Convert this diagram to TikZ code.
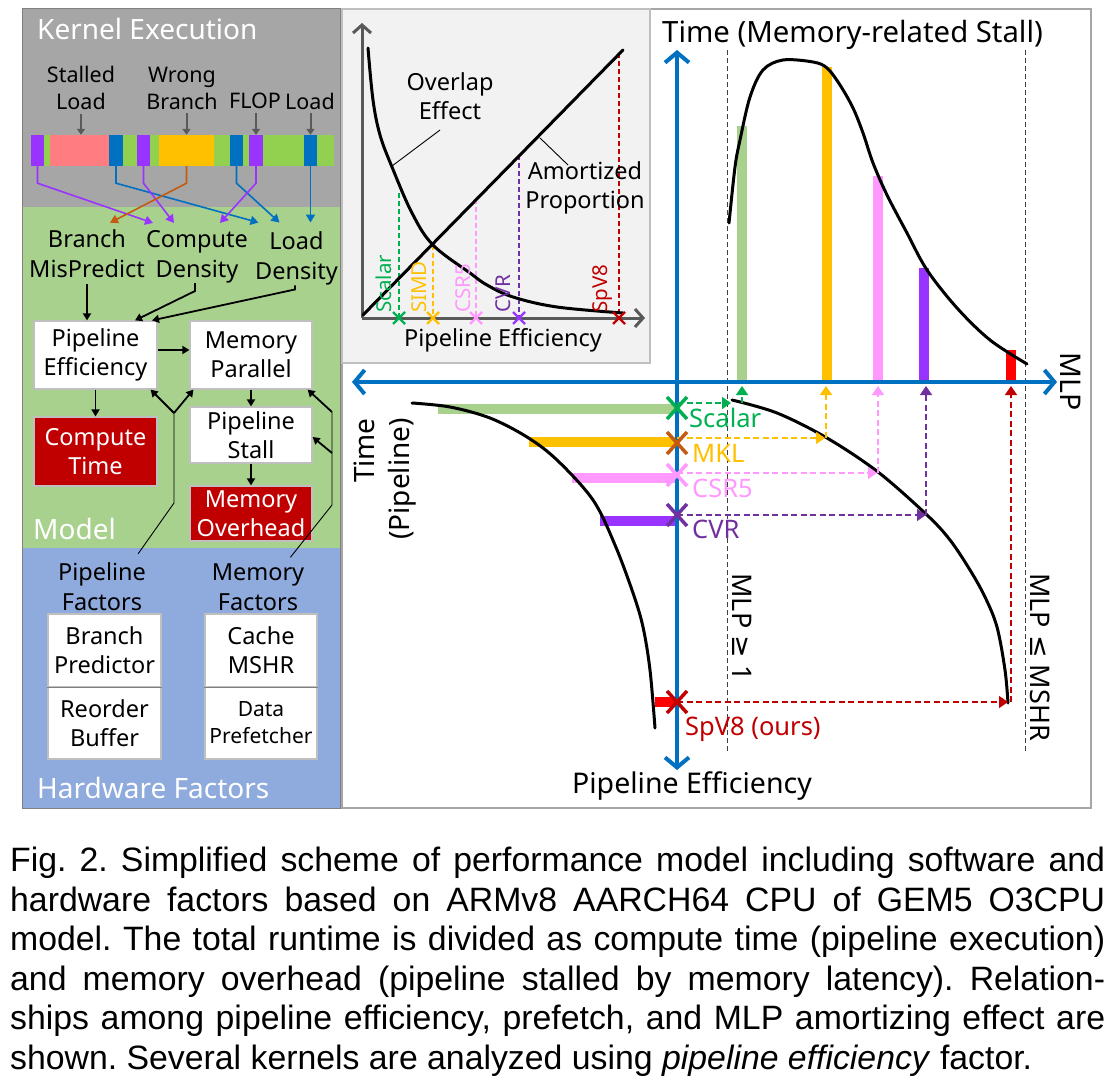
\documentclass[tikz,border=0pt]{standalone}
\usepackage{fontspec}
\setmainfont{Noto Sans}
\newfontfamily\capfont{Liberation Sans}
\newfontfamily\dvs{DejaVu Sans}
\usetikzlibrary{arrows.meta,calc}
\definecolor{kgray}{HTML}{A6A6A6}
\definecolor{mgreen}{HTML}{A9D18E}
\definecolor{hblue}{HTML}{8FAADC}
\definecolor{bgreen}{HTML}{92D050}
\definecolor{bpink}{HTML}{FF7C80}
\definecolor{mblue}{HTML}{0070C0}
\definecolor{vpurple}{HTML}{9933FF}
\definecolor{kgold}{HTML}{FFC000}
\definecolor{rbrown}{HTML}{C55A11}
\definecolor{dred}{HTML}{C00000}
\definecolor{igray}{HTML}{F2F2F2}
\definecolor{boxgray}{HTML}{BFBFBF}
\definecolor{pgray}{HTML}{A6A6A6}
\definecolor{agray}{HTML}{595959}
\definecolor{sgreen}{HTML}{00B050}
\definecolor{lpink}{HTML}{FF99FF}
\definecolor{dpurple}{HTML}{7030A0}
\definecolor{bred}{HTML}{FF0000}
\definecolor{dashgray}{HTML}{404040}
\newcommand\fsz[2]{\fontsize{#1pt}{#2pt}\selectfont}
\begin{document}
\begin{tikzpicture}[x=1pt,y=-1pt,
  ttl/.style={text=white,font=\fsz{28}{34},inner sep=0pt},
  klab/.style={font=\fsz{21.5}{27},align=center,inner sep=0pt},
  mlab/.style={font=\fsz{23.5}{30},align=center,inner sep=0pt},
  wbox/.style={draw=boxgray,line width=1.2pt,fill=white,inner sep=0pt,align=center,font=\fsz{23.5}{29}},
  rbox/.style={wbox,fill=dred,text=white},
  seg/.style={inner sep=0pt,minimum height=31pt,minimum width=#1},
  karr/.style={draw=agray,line width=2pt,-{Triangle[length=6pt,width=8pt]}},
  carr/.style={line width=1.6pt,-{Triangle[length=8pt,width=9pt]}},
  barr/.style={line width=1.8pt,-{Triangle[length=7pt,width=8pt]}},
  thinl/.style={line width=0.9pt},
  ilab/.style={font=\fsz{23.5}{29},align=center,inner sep=0pt},
  vlab/.style={font=\fsz{20.5}{24},inner sep=0pt,rotate=90,anchor=west},
  idash/.style={dashed,dash pattern=on 5pt off 3pt,line width=1.5pt},
  blk/.style={line width=3pt,line cap=round},
  bigl/.style={font=\fsz{28.5}{35},inner sep=0pt},
  clab/.style={font=\fsz{25.5}{30},inner sep=0pt,anchor=base west},
  darr/.style={dashed,dash pattern=on 6pt off 3.5pt,line width=1.6pt,-{Triangle[length=9pt,width=12pt]}},
  vbar/.style={line width=9.5pt},
  baxis/.style={draw=mblue,line width=4pt,{Straight Barb[length=10pt,width=24pt]}-{Straight Barb[length=10pt,width=24pt]}},
  iaxis/.style={draw=agray,line width=3pt,-{Straight Barb[length=8pt,width=18pt]}},
  xbig/.pic={\draw[line width=3.5pt] (-10,-11) -- (10,11) (-10,11) -- (10,-11);},
  xsml/.pic={\draw[line width=2.2pt] (-6,-6) -- (6,6) (-6,6) -- (6,-6);},
]
\useasboundingbox (0,0) rectangle (1115,1081);
\fill[white] (0,0) rectangle (1115,1081);

% ---------------- left panel ----------------
\fill[kgray] (22,9) rectangle (340,207);
\fill[mgreen] (22,207) rectangle (340,548);
\fill[hblue] (22,548) rectangle (340,808);
\draw[gray,line width=1pt] (22,9) rectangle (340,808);

\node[ttl,anchor=base west] (tke) at (37,40) {Kernel Execution};
\node[ttl,anchor=base west] (tmo) at (33,539) {Model};
\node[ttl,anchor=base west] (thf) at (37,798) {Hardware Factors};

\node[klab] (stl) at (81,88) {Stalled\\Load};
\node[klab] (wrb) at (182,88) {Wrong\\Branch};
\node[klab] (flp) at (255,101) {FLOP};
\node[klab] (ldl) at (310,101) {Load};

\node[seg=303pt,fill=bgreen] (bar) at (182.5,150.5) {};
\node[seg=13pt,fill=vpurple] (p1) at (37.5,150.5) {};
\node[seg=59pt,fill=bpink] (k1) at (79.5,150.5) {};
\node[seg=14pt,fill=mblue] (b1) at (116,150.5) {};
\node[seg=13pt,fill=vpurple] (p2) at (143.5,150.5) {};
\node[seg=55pt,fill=kgold] (o1) at (186.5,150.5) {};
\node[seg=13pt,fill=mblue] (b2) at (236.5,150.5) {};
\node[seg=14pt,fill=vpurple] (p3) at (256,150.5) {};
\node[seg=13pt,fill=mblue] (b3) at (310.5,150.5) {};

\draw[karr] ($(stl.south)+(0,4)$) -- (stl.south |- k1.north);
\draw[karr] ($(o1.north |- wrb.south)+(0,4)$) -- (o1.north);
\draw[karr] ($(p3.north |- flp.south)+(0,4)$) -- (p3.north);
\draw[karr] ($(b3.north |- ldl.south)+(0,4)$) -- (b3.north);

\node[mlab] (bmp) at (87,254) {Branch\\MisPredict};
\node[mlab] (cd) at (197,256.5) {Compute\\Density};
\node[mlab] (ld) at (296.5,258.5) {Load\\Density};

\draw[carr,vpurple] (p1.south) -- ++(0,17) -- ([xshift=-44pt,yshift=7pt]cd.north);
\draw[carr,mblue] (b1.south) -- ++(0,17) -- ([xshift=-38pt,yshift=9pt]ld.north);
\draw[carr,vpurple] (p2.south) -- ++(0,17) -- ([xshift=-23pt,yshift=7pt]cd.north);
\draw[carr,rbrown] (o1.south) -- ++(0,17) -- ([xshift=23pt,yshift=7pt]bmp.north);
\draw[carr,mblue] (b2.south) -- ++(0,17) -- ([xshift=-17pt,yshift=9pt]ld.north);
\draw[carr,vpurple] (p3.south) -- ++(0,17) -- ([xshift=23pt,yshift=7pt]cd.north);
\draw[carr,mblue] (b3.south) -- ([xshift=14pt,yshift=9pt]ld.north);

\node[wbox,minimum width=123pt,minimum height=68pt] (pe) at (95.5,355) {Pipeline\\Efficiency};
\node[wbox,minimum width=122pt,minimum height=68pt] (mp) at (251,355) {Memory\\Parallel};
\node[rbox,minimum width=123pt,minimum height=69pt] (ct) at (95.5,451.5) {Compute\\Time};
\node[wbox,minimum width=122pt,minimum height=56pt] (ps) at (251,435) {Pipeline\\Stall};
\node[rbox,minimum width=122pt,minimum height=55pt] (mo) at (251,513.5) {Memory\\Overhead};

\draw[barr] ($(bmp.south)+(0,6)$) -- (bmp.south |- pe.north);
\draw[barr] ([xshift=-2pt]cd.south) -- ++(0,8) -- ([xshift=39.5pt]pe.north);
\draw[barr] ([xshift=-1.5pt]ld.south) -- ++(0,4) -- ([xshift=56.5pt]pe.north);

\draw[barr] ([yshift=5pt]pe.east) -- ([yshift=5pt]mp.west);
\draw[barr] (pe.south) -- (ct.north);
\draw[barr] (mp.south) -- (ps.north);
\draw[barr] (ps.south) -- (mo.north);

\node[mlab] (pf) at (102,587) {Pipeline\\Factors};
\node[mlab] (mf) at (258,587) {Memory\\Factors};

\coordinate (pfb) at (174,503);
\coordinate (pfj) at (174,413);
\draw[thinl] ([xshift=-8pt,yshift=9pt]pf.north east) -- (pfb) -- (pfj);
\draw[barr] (pfj) -- ([xshift=-7pt]pe.south east);
\draw[barr] (pfj) -- ([xshift=4pt]mp.south west);

\coordinate (mfb) at (332,505);
\coordinate (mfm) at (332,453);
\coordinate (mfj) at (332,412);
\draw[thinl] ([xshift=-14pt,yshift=6pt]mf.north east) -- (mfb) -- (mfj);
\draw[barr] (mfm) -- ([yshift=-2pt]ps.east);
\draw[barr] (mfj) -- ([xshift=-5pt]mp.south east);

\node[wbox,minimum width=113pt,minimum height=73pt] (bp) at (104.5,650.5) {Branch\\Predictor};
\node[wbox,minimum width=113pt,minimum height=72pt] (rb) at (104.5,723) {Reorder\\Buffer};
\node[wbox,minimum width=112pt,minimum height=73pt] (cm) at (261,650.5) {Cache\\MSHR};
\node[wbox,minimum width=112pt,minimum height=72pt,font=\fsz{21}{27}] (dp) at (261,723) {Data\\Prefetcher};
\draw[gray,line width=1.2pt] (bp.south west) -- (bp.south east);
\draw[gray,line width=1.2pt] (cm.south west) -- (cm.south east);

% ---------------- right panel ----------------
\draw[pgray,line width=1.2pt] (342,9) rectangle (1091,808);

% inset
\fill[igray] (342,9) rectangle (650,363);
\draw[boxgray,line width=1.2pt] (342,9) rectangle (650,363);
\draw[iaxis] (362,318) -- (362,23);
\draw[iaxis] (362,318) -- (645,318);
\draw[idash,sgreen] (399,193) -- (399,318);
\draw[idash,kgold] (433,245) -- (433,318);
\draw[idash,lpink] (476,199) -- (476,318);
\draw[idash,dpurple] (519,155) -- (519,318);
\draw[idash,dred] (619,53) -- (619,318);
\draw[blk] plot[smooth,tension=0.6] coordinates {(368,48) (373,100) (380,135) (392,167) (412,213) (433,245) (470,273) (487,285) (513,297) (557,307) (623,313)};
\draw[blk] (363,315) -- (623,50);
\draw[thinl] (440,130) -- (392,166);
\draw[thinl] (540,138) -- (568,165);
\node[ilab] (ovl) at (450,96) {Overlap\\Effect};
\node[ilab] (amp) at (585,188) {Amortized\\Proportion};
\node[ilab] (ipe) at (503,340) {Pipeline Efficiency};
\pic[sgreen] at (399,318) {xsml};
\pic[kgold] at (433,318) {xsml};
\pic[lpink] at (476,318) {xsml};
\pic[vpurple] at (519,318) {xsml};
\pic[dred] at (619,318) {xsml};
\node[vlab,text=sgreen] (isc) at (384,313) {Scalar};
\node[vlab,text=kgold] (isi) at (419,313) {SIMD};
\node[vlab,text=lpink] (ics) at (463,313) {CSR5};
\node[vlab,text=dpurple] (icv) at (503,313) {CVR};
\node[vlab,text=dred] (isp) at (603,313) {SpV8};

% main chart
\draw[dashgray,line width=1pt,dashed,dash pattern=on 5pt off 3pt] (727,50) -- (727,752);
\draw[dashgray,line width=1pt,dashed,dash pattern=on 5pt off 3pt] (1025,50) -- (1025,752);

\draw[vbar,mgreen] (742,126) -- (742,382);
\draw[vbar,kgold] (827,67) -- (827,382);
\draw[vbar,lpink] (878,176) -- (878,382);
\draw[vbar,vpurple] (924,268) -- (924,382);
\draw[vbar,bred] (1011,350) -- (1011,382);

\draw[vbar,mgreen] (438,409) -- (677,409);
\draw[vbar,kgold] (529,442) -- (677,442);
\draw[vbar,lpink] (572,478) -- (677,478);
\draw[vbar,vpurple] (600,521) -- (677,521);
\draw[vbar,bred] (655,702) -- (677,702);

\draw[blk] plot[smooth,tension=0.55] coordinates {(729,223) (735,167) (740,140) (750,97) (763,70) (783,60) (813,62) (827,68) (840,85) (853,108) (863,133) (873,163) (887,195) (907,233) (927,270) (957,308) (990,340) (1027,364)};
\draw[blk] plot[smooth,tension=0.55] coordinates {(412,403) (450,407) (490,418) (527,437) (557,460) (593,500) (615,545) (633,593) (643,627) (650,670) (655,728)};
\draw[blk] plot[smooth,tension=0.55] coordinates {(732,400) (777,413) (827,438) (878,472) (927,515) (950,540) (970,570) (985,597) (997,627) (1005,670) (1008,703)};

\draw[baxis] (677,770) -- (677,50);
\draw[baxis] (352,382) -- (1057,382);

\draw[darr,sgreen] (677,403) -- (731,403);
\draw[darr,sgreen] (742,403) -- (742,386);
\draw[darr,kgold] (677,438) -- (825,438);
\draw[darr,kgold] (826,438) -- (826,386);
\draw[darr,lpink] (677,473) -- (877,473);
\draw[darr,lpink] (878,473) -- (878,386);
\draw[darr,dpurple] (677,515) -- (926,515);
\draw[darr,dpurple] (926,515) -- (926,386);
\draw[darr,dred] (677,702) -- (1008,702);
\draw[darr,dred] (1011,702) -- (1011,386);

\pic[sgreen] at (677,408) {xbig};
\pic[rbrown] at (677,443) {xbig};
\pic[lpink] at (677,475) {xbig};
\pic[dpurple] at (677,515) {xbig};
\pic[dred] at (677,702) {xbig};

\node[clab,text=sgreen] (lsc) at (689,427) {Scalar};
\node[clab,text=kgold] (lmk) at (692,462) {MKL};
\node[clab,text=lpink] (lcs) at (692,497) {CSR5};
\node[clab,text=dpurple] (lcv) at (692,538) {CVR};
\node[clab,text=dred] (lsp) at (685,735) {SpV8 (ours)};

\node[bigl,anchor=base west,font=\fsz{29.3}{35}] (tms) at (662,43) {Time (Memory-related Stall)};
\node[bigl,rotate=-90] (mlp) at (1071,382) {MLP};
\node[bigl,rotate=90,anchor=north east,align=right,font=\fsz{28}{35}] (tpl) at (354,418) {Time\\(Pipeline)};
\node[bigl,anchor=base] (bpe) at (692,793) {Pipeline Efficiency};
\node[bigl,rotate=-90,font=\fsz{27}{32}] (ml1) at (742,627) {MLP {\dvs ≥} 1};
\node[bigl,rotate=-90,font=\fsz{27}{32}] (ml2) at (1040,657) {MLP {\dvs ≤} MSHR};

% caption
\node[anchor=north west,inner sep=0pt,text width=1095pt,align=justify,font=\capfont\fsz{33.8}{39.5}\frenchspacing] (cap) at (10,847)
{Fig. 2. Simplified scheme of performance model including software and\linebreak
hardware factors based on ARMv8 AARCH64 CPU of GEM5 O3CPU\linebreak
model. The total runtime is divided as compute time (pipeline execution)\linebreak
and memory overhead (pipeline stalled by memory latency). Relation-\linebreak
ships among pipeline efficiency, prefetch, and MLP amortizing effect are\linebreak
shown. Several kernels are analyzed using \textit{pipeline efficiency} factor.};
\end{tikzpicture}
\end{document}
